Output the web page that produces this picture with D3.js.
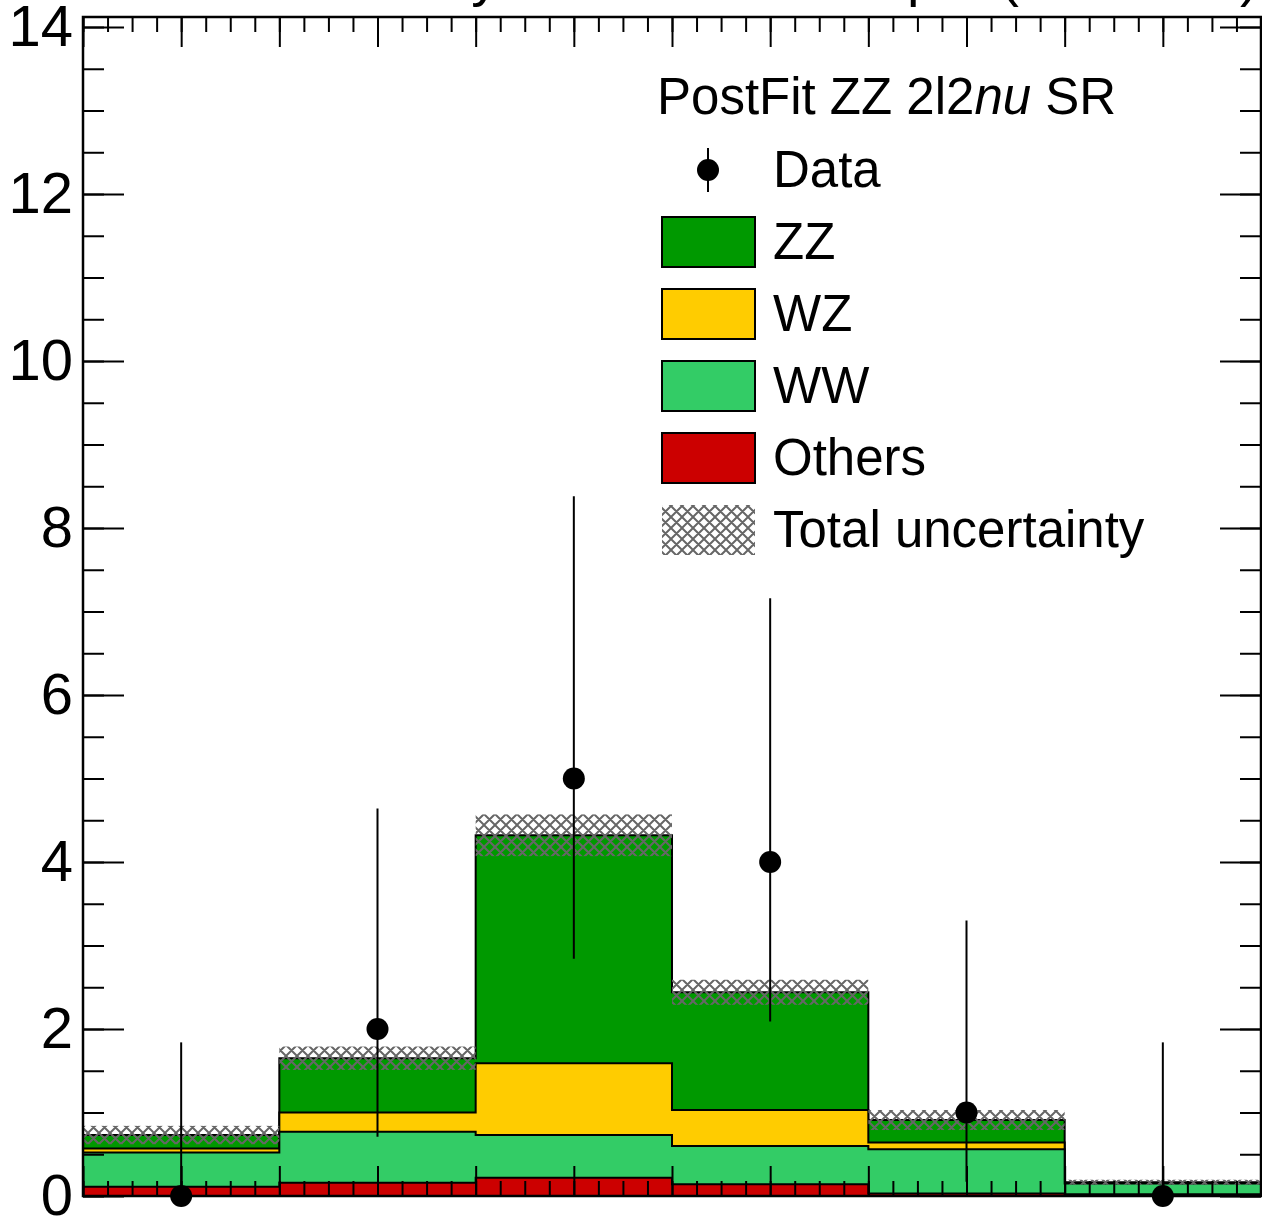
<!DOCTYPE html>
<html>
<head>
<meta charset="utf-8">
<script src="https://cdn.jsdelivr.net/npm/d3@7"></script>
<style>
  body { margin: 0; background: #fff; }
  svg { display: block; font-family: "Liberation Sans", Arial, Helvetica, sans-serif; }
</style>
</head>
<body>
<svg id="chart" width="1262" height="1219"></svg>
<script>
// bin edges (6 bins)
const binEdges = [0, 1, 2, 3, 4, 5, 6]

// stacked backgrounds, per bin (bottom to top)
const others = [0.11, 0.16, 0.22, 0.14, 0.03, 0.02]
const ww     = [0.41, 0.61, 0.51, 0.46, 0.53, 0.13]
const wz     = [0.05, 0.23, 0.86, 0.43, 0.08, 0.005]
const zz     = [0.16, 0.65, 2.73, 1.41, 0.27, 0.01]
// total uncertainty (half width of the band)
const totalUnc = [0.11, 0.14, 0.25, 0.15, 0.12, 0.03]

// observed data with asymmetric poisson errors
const dataObs  = [0, 2, 5, 4, 1, 0]
const dataLow  = [0, 0.71, 2.84, 2.09, 0.17, 0]
const dataHigh = [1.84, 4.64, 8.38, 7.16, 3.30, 1.84]

const yTicks = [0, 2, 4, 6, 8, 10, 12, 14]

const legendTitle = 'PostFit ZZ 2l2'
const legendEntries = ['Data', 'ZZ', 'WZ', 'WW', 'Others', 'Total uncertainty']

const colors = { zz: '#009900', wz: '#ffcc00', ww: '#33cc66', others: '#cc0000' }

const svg = d3.select('#chart')
const frameL = 83, frameR = 1261, frameT = 17, frameB = 1196

const x = d3.scaleLinear().domain([0, 6]).range([frameL, frameR])
const y = d3.scaleLinear().domain([0, 14.12]).range([frameB, frameT])

// hatch pattern for the uncertainty band
const defs = svg.append('defs')
const pat = defs.append('pattern')
  .attr('id', 'hatch')
  .attr('patternUnits', 'userSpaceOnUse')
  .attr('width', 11).attr('height', 11)
pat.append('path').attr('d', 'M0,0L11,11M0,11L11,0M-1,10L1,12M10,-1L12,1M-1,1L1,-1M10,12L12,10')
  .attr('stroke', '#666').attr('stroke-width', 2).attr('fill', 'none')

// title (mostly outside the picture, only descenders show)
svg.append('text')
  .attr('x', 300).attr('y', -5)
  .style('font-size', '56px')
  .text('Postfit yields of DNN output (ZZ 2l2nu)')

// cumulative stack
const layers = [
  { key: 'others', vals: others },
  { key: 'ww', vals: ww },
  { key: 'wz', vals: wz },
  { key: 'zz', vals: zz }
]
let cum = binEdges.slice(0, 6).map(() => 0)
layers.forEach(l => {
  cum = cum.map((c, i) => c + l.vals[i])
  l.top = cum.slice()
})
const total = cum

const area = d3.area()
  .curve(d3.curveStepAfter)
  .x(d => x(d.x))
  .y0(y(0))
  .y1(d => y(d.v))

const stepPoints = function (tops) {
  const pts = tops.map((v, i) => ({ x: binEdges[i], v: v }))
  pts.push({ x: binEdges[6], v: tops[5] })
  return pts
}

// draw from the top layer down so lower ones sit on top
layers.slice().reverse().forEach(l => {
  svg.append('path')
    .attr('d', area(stepPoints(l.top)))
    .attr('fill', colors[l.key])
    .attr('stroke', '#000')
    .attr('stroke-width', 2)
})

// uncertainty band
svg.selectAll('rect.unc')
  .data(total)
  .enter().append('rect')
  .attr('class', 'unc')
  .attr('x', (d, i) => x(binEdges[i]))
  .attr('width', (d, i) => x(binEdges[i + 1]) - x(binEdges[i]))
  .attr('y', (d, i) => y(d + totalUnc[i]))
  .attr('height', (d, i) => y(d - totalUnc[i]) - y(d + totalUnc[i]))
  .attr('fill', 'url(#hatch)')

// data points
const centers = binEdges.slice(0, 6).map(e => e + 0.5)
svg.selectAll('line.err')
  .data(dataObs)
  .enter().append('line')
  .attr('class', 'err')
  .attr('x1', (d, i) => x(centers[i])).attr('x2', (d, i) => x(centers[i]))
  .attr('y1', (d, i) => y(dataLow[i])).attr('y2', (d, i) => y(dataHigh[i]))
  .attr('stroke', '#000').attr('stroke-width', 2)
svg.selectAll('circle.pt')
  .data(dataObs)
  .enter().append('circle')
  .attr('class', 'pt')
  .attr('cx', (d, i) => x(centers[i]))
  .attr('cy', d => y(d))
  .attr('r', 11)
  .attr('fill', '#000')

// axes: ticks pointing inward on all four sides
const yMinor = d3.range(0, 14.01, 0.5)
const xMajor = d3.range(0, 6.01, 0.5)
const xMinor = d3.range(0, 6.01, 0.125)

const styleAxis = function (g) {
  g.select('.domain').remove()
  g.selectAll('.tick line').attr('stroke', '#000').attr('stroke-width', 2)
}

svg.append('g').attr('transform', `translate(${frameL},0)`)
  .call(d3.axisLeft(y).tickValues(yTicks).tickSize(-41).tickPadding(10).tickFormat(d3.format('d')))
  .call(styleAxis)
  .selectAll('text').style('font-size', '58px').attr('fill', '#000')
  .style('font-family', '"Liberation Sans", Arial, Helvetica, sans-serif')
svg.append('g').attr('transform', `translate(${frameL},0)`)
  .call(d3.axisLeft(y).tickValues(yMinor).tickSize(-21).tickFormat(''))
  .call(styleAxis)
svg.append('g').attr('transform', `translate(${frameR},0)`)
  .call(d3.axisRight(y).tickValues(yTicks).tickSize(-41).tickFormat(''))
  .call(styleAxis)
svg.append('g').attr('transform', `translate(${frameR},0)`)
  .call(d3.axisRight(y).tickValues(yMinor).tickSize(-21).tickFormat(''))
  .call(styleAxis)

svg.append('g').attr('transform', `translate(0,${frameB})`)
  .call(d3.axisBottom(x).tickValues(xMajor).tickSize(-30).tickFormat(''))
  .call(styleAxis)
svg.append('g').attr('transform', `translate(0,${frameB})`)
  .call(d3.axisBottom(x).tickValues(xMinor).tickSize(-15).tickFormat(''))
  .call(styleAxis)
svg.append('g').attr('transform', `translate(0,${frameT})`)
  .call(d3.axisTop(x).tickValues(xMajor).tickSize(-30).tickFormat(''))
  .call(styleAxis)
svg.append('g').attr('transform', `translate(0,${frameT})`)
  .call(d3.axisTop(x).tickValues(xMinor).tickSize(-15).tickFormat(''))
  .call(styleAxis)

// frame
svg.append('rect')
  .attr('x', frameL).attr('y', frameT)
  .attr('width', frameR - frameL).attr('height', frameB - frameT)
  .attr('fill', 'none').attr('stroke', '#000').attr('stroke-width', 2.5)

// legend
const leg = svg.append('g')
const head = leg.append('text').attr('x', 657).attr('y', 114).style('font-size', '51px')
head.append('tspan').text(legendTitle)
head.append('tspan').style('font-style', 'italic').text('nu')
head.append('tspan').text(' SR')

const legFills = [null, colors.zz, colors.wz, colors.ww, colors.others, 'url(#hatch)']
const rowY = d3.scaleLinear().domain([0, 1]).range([170, 242])

legendEntries.forEach((name, i) => {
  const cy = rowY(i)
  if (i == 0) {
    leg.append('line').attr('x1', 708).attr('x2', 708).attr('y1', cy - 22).attr('y2', cy + 22)
      .attr('stroke', '#000').attr('stroke-width', 2)
    leg.append('circle').attr('cx', 708).attr('cy', cy).attr('r', 11).attr('fill', '#000')
  } else {
    leg.append('rect')
      .attr('x', 662).attr('y', cy - 25).attr('width', 93).attr('height', 50)
      .attr('fill', legFills[i])
      .attr('stroke', i == 5 ? 'none' : '#000').attr('stroke-width', 2)
  }
  leg.append('text').attr('x', 773).attr('y', cy + 17).style('font-size', '51px').text(name)
})
</script>
</body>
</html>
